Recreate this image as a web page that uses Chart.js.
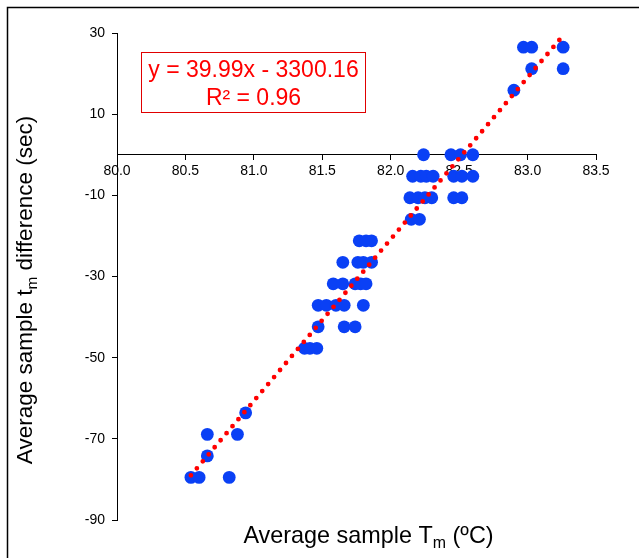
<!DOCTYPE html>
<html>
<head>
<meta charset="utf-8">
<script src="https://cdn.jsdelivr.net/npm/chart.js@4/dist/chart.umd.min.js"></script>
<style>
  body { margin: 0; background: #fff; }
  #wrap { width: 639px; height: 558px; }
</style>
</head>
<body>
<div id="wrap"><canvas id="chart" width="639" height="558"></canvas></div>
<script>
// values
const tempX = [
    82.97, 83.03, 83.26,
    83.03, 83.26,
    82.90,
    82.24, 82.44, 82.51, 82.60,
    82.16, 82.22, 82.26, 82.31, 82.46, 82.52, 82.60,
    82.14, 82.20, 82.25, 82.30, 82.46, 82.52,
    82.15, 82.21,
    81.77, 81.82, 81.86,
    81.65, 81.76, 81.80, 81.86,
    81.58, 81.65, 81.74, 81.78, 81.82,
    81.47, 81.53, 81.60, 81.66, 81.80,
    81.47, 81.66, 81.74,
    81.37, 81.41, 81.46,
    80.94,
    80.66, 80.88,
    80.66,
    80.54, 80.60, 80.82
];
const diffY = [
    26.5, 26.5, 26.5,
    21.2, 21.2,
    15.9,
    0, 0, 0, 0,
    -5.3, -5.3, -5.3, -5.3, -5.3, -5.3, -5.3,
    -10.6, -10.6, -10.6, -10.6, -10.6, -10.6,
    -15.9, -15.9,
    -21.2, -21.2, -21.2,
    -26.5, -26.5, -26.5, -26.5,
    -31.8, -31.8, -31.8, -31.8, -31.8,
    -37.1, -37.1, -37.1, -37.1, -37.1,
    -42.4, -42.4, -42.4,
    -47.7, -47.7, -47.7,
    -63.6,
    -68.9, -68.9,
    -74.2,
    -79.5, -79.5, -79.5
];
// trendline end points (as drawn in the picture)
const trendX = [80.54, 83.25];
const trendY = [-79.0, 29.0];
const trendText = ["y = 39.99x - 3300.16", "R² = 0.96"];

const xTicks = [80.0, 80.5, 81.0, 81.5, 82.0, 82.5, 83.0, 83.5];
const yTicks = [-90, -70, -50, -30, -10, 10, 30];

const FONT = "'Liberation Sans', Arial, Helvetica, sans-serif";
Chart.defaults.font.family = FONT;
Chart.defaults.color = "#000";

// draws text with a subscript part: [before, sub, after]
function drawSubText(ctx, parts, size) {
    const subSize = size * 0.68;
    ctx.font = size + "px " + FONT;
    const w0 = ctx.measureText(parts[0]).width;
    const w2 = ctx.measureText(parts[2]).width;
    ctx.font = subSize + "px " + FONT;
    const w1 = ctx.measureText(parts[1]).width;
    let x = -(w0 + w1 + w2) / 2;
    ctx.textAlign = "left";
    ctx.textBaseline = "alphabetic";
    ctx.font = size + "px " + FONT;
    ctx.fillText(parts[0], x, 0);
    x += w0;
    ctx.font = subSize + "px " + FONT;
    ctx.fillText(parts[1], x, size * 0.22);
    x += w1;
    ctx.font = size + "px " + FONT;
    ctx.fillText(parts[2], x, 0);
}

const extras = {
    id: "extras",
    afterDraw(chart) {
        const ctx = chart.ctx;
        const area = chart.chartArea;
        ctx.save();

        // outer frame (left + top)
        ctx.strokeStyle = "#000";
        ctx.lineWidth = 1.5;
        ctx.beginPath();
        ctx.moveTo(7.5, 558);
        ctx.lineTo(7.5, 7.5);
        ctx.lineTo(639, 7.5);
        ctx.stroke();

        // axis titles
        ctx.fillStyle = "#000";
        ctx.save();
        ctx.translate((area.left + area.right) / 2 + 12, 543);
        drawSubText(ctx, ["Average sample T", "m", " (ºC)"], 23.4);
        ctx.restore();

        ctx.save();
        ctx.translate(32, 290);
        ctx.rotate(-Math.PI / 2);
        drawSubText(ctx, ["Average sample t", "m", " difference (sec)"], 22.5);
        ctx.restore();

        // equation box
        ctx.strokeStyle = "#e00000";
        ctx.lineWidth = 1;
        ctx.strokeRect(141.5, 52.5, 224, 60);
        ctx.fillStyle = "#ff0000";
        ctx.font = "23px " + FONT;
        ctx.textAlign = "center";
        ctx.textBaseline = "alphabetic";
        ctx.fillText(trendText[0], 253.5, 77);
        ctx.fillText(trendText[1], 253.5, 105);

        ctx.restore();
    }
};

new Chart(document.getElementById("chart"), {
    type: "scatter",
    data: {
        datasets: [
            {
                type: "line",
                label: "trend",
                data: trendX.map((x, i) => ({ x: x, y: trendY[i] })),
                borderColor: "#ff0000",
                borderWidth: 4.8,
                borderDash: [0, 9.2],
                borderCapStyle: "round",
                pointRadius: 0,
                fill: false,
                order: 0
            },
            {
                label: "samples",
                data: tempX.map((x, i) => ({ x: x, y: diffY[i] })),
                backgroundColor: "#0a40f5",
                borderColor: "#0a40f5",
                borderWidth: 0,
                pointRadius: 6.4,
                order: 1
            }
        ]
    },
    options: {
        responsive: false,
        animation: false,
        devicePixelRatio: 1,
        layout: { padding: { top: 33, right: 43, bottom: 38, left: 0 } },
        plugins: {
            legend: { display: false },
            tooltip: { enabled: false }
        },
        scales: {
            x: {
                type: "linear",
                position: { y: 0 },
                min: 80,
                max: 83.5,
                afterBuildTicks: (s) => { s.ticks = xTicks.map(v => ({ value: v })); },
                ticks: {
                    font: { size: 14 },
                    color: "#000",
                    padding: 3,
                    maxRotation: 0,
                    autoSkip: false,
                    callback: (v) => Number(v).toFixed(1)
                },
                grid: { drawOnChartArea: false, drawTicks: true, tickLength: 5, tickColor: "#000" },
                border: { color: "#000", width: 1 }
            },
            y: {
                type: "linear",
                position: "left",
                min: -90,
                max: 30,
                afterBuildTicks: (s) => { s.ticks = yTicks.map(v => ({ value: v })); },
                afterFit: (s) => { s.width = 117; },
                ticks: {
                    font: { size: 14 },
                    color: "#000",
                    padding: 7,
                    autoSkip: false
                },
                grid: { drawOnChartArea: false, drawTicks: true, tickLength: 5, tickColor: "#000" },
                border: { color: "#000", width: 1 }
            }
        }
    },
    plugins: [extras]
});
</script>
</body>
</html>
